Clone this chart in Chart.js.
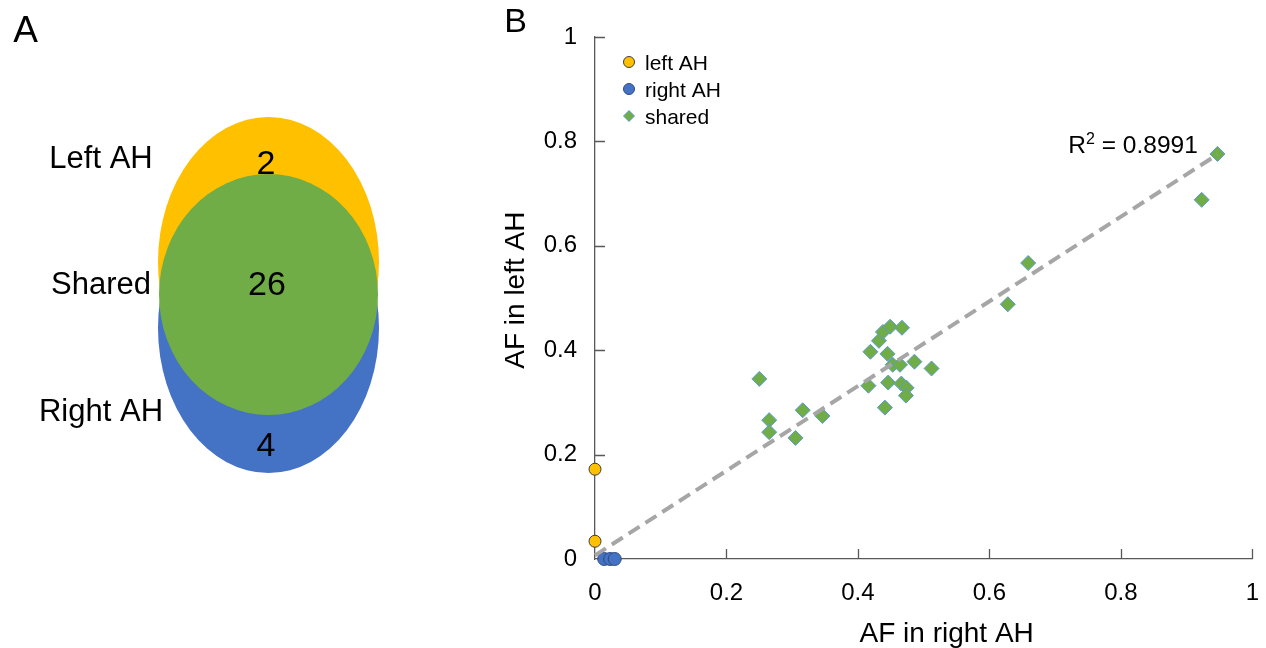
<!DOCTYPE html>
<html>
<head>
<meta charset="utf-8">
<script src="https://cdn.jsdelivr.net/npm/chart.js@4.4.1/dist/chart.umd.min.js"></script>
<style>
  html, body { margin: 0; padding: 0; background: #fff; }
  #wrap { position: relative; width: 1266px; height: 648px; overflow: hidden; }
  #venn { position: absolute; left: 0; top: 0; }
  #scatter { position: absolute; left: 480px; top: 0; }
</style>
</head>
<body>
<div id="wrap">
  <canvas id="venn" width="480" height="648"></canvas>
  <canvas id="scatter" width="799" height="648"></canvas>
</div>
<script>
// panel A
const vennNames = ['Left AH', 'Shared', 'Right AH']
const vennCounts = [2, 26, 4]

// panel B, allele frequencies
const leftX = [0, 0]
const leftY = [0.172, 0.034]
const rightX = [0.014, 0.023, 0.030]
const rightY = [0, 0, 0]
const sharedX = [0.947, 0.923, 0.659, 0.628, 0.250, 0.265, 0.265, 0.305, 0.316, 0.346, 0.416, 0.419, 0.432,
  0.438, 0.449, 0.467, 0.445, 0.453, 0.464, 0.486, 0.512, 0.446, 0.466, 0.474, 0.473, 0.441]
const sharedY = [0.776, 0.688, 0.567, 0.488, 0.345, 0.266, 0.243, 0.232, 0.285, 0.274, 0.332, 0.397, 0.418,
  0.435, 0.445, 0.443, 0.393, 0.372, 0.372, 0.378, 0.365, 0.338, 0.336, 0.328, 0.313, 0.290]
const trendX = [0, 0.947]
const trendY = [0.007, 0.775]
const rSquared = '0.8991'
const tickValues = [0, 0.2, 0.4, 0.6, 0.8, 1]
const tickLabels = ['0', '0.2', '0.4', '0.6', '0.8', '1']
const xTitle = 'AF in right AH'
const yTitle = 'AF in left AH'

const family = '"Liberation Sans", Arial, sans-serif'
const axisColor = '#595959'

function toPoints(xs, ys) {
  return xs.map((x, i) => ({x: x, y: ys[i]}))
}

// venn layout (pixels of the left canvas)
const vennShapes = [
  {cx: 268.5, cy: 262, rx: 110.5, ry: 145, color: '#FFC000'},
  {cx: 268.5, cy: 328, rx: 110.5, ry: 145, color: '#4472C4'},
  {cx: 268.5, cy: 294.5, rx: 109.5, ry: 120.5, color: '#70AD47'}
]
const nameSpots = [[101, 157], [101, 283], [101, 410]]
const countSpots = [[266, 162], [267, 283], [266, 444]]

function capText(ctx, text, x, y, size) {
  // y is the middle of the capital letters
  ctx.font = size + 'px ' + family
  ctx.textAlign = 'center'
  ctx.textBaseline = 'alphabetic'
  ctx.fillText(text, x, y + size * 0.358)
}

const vennPlugin = {
  id: 'vennPlugin',
  afterDraw(chart) {
    const ctx = chart.ctx
    const xs = chart.scales.x
    const ys = chart.scales.y
    ctx.save()
    vennShapes.forEach((s) => {
      const px = xs.getPixelForValue(s.cx)
      const py = ys.getPixelForValue(s.cy)
      const rx = xs.getPixelForValue(s.cx + s.rx) - px
      const ry = ys.getPixelForValue(s.cy + s.ry) - py
      ctx.beginPath()
      ctx.ellipse(px, py, Math.abs(rx), Math.abs(ry), 0, 0, Math.PI * 2)
      ctx.fillStyle = s.color
      ctx.fill()
    })
    ctx.fillStyle = '#000'
    vennNames.forEach((name, i) => {
      capText(ctx, name, xs.getPixelForValue(nameSpots[i][0]), ys.getPixelForValue(nameSpots[i][1]), 31)
    })
    vennCounts.forEach((n, i) => {
      capText(ctx, String(n), xs.getPixelForValue(countSpots[i][0]), ys.getPixelForValue(countSpots[i][1]), 34)
    })
    capText(ctx, 'A', 25.5, 28.5, 37)
    ctx.restore()
  }
}

new Chart(document.getElementById('venn'), {
  type: 'scatter',
  data: {datasets: []},
  options: {
    responsive: false,
    animation: false,
    layout: {padding: 0},
    plugins: {legend: {display: false}, tooltip: {enabled: false}},
    scales: {
      x: {type: 'linear', min: 0, max: 480, display: false},
      y: {type: 'linear', min: 0, max: 648, reverse: true, display: false}
    }
  },
  plugins: [vennPlugin]
})

// ticks pointing into the plot
const innerTicks = {
  id: 'innerTicks',
  afterDraw(chart) {
    const ctx = chart.ctx
    const area = chart.chartArea
    const xs = chart.scales.x
    const ys = chart.scales.y
    ctx.save()
    ctx.strokeStyle = axisColor
    ctx.lineWidth = 1.3
    ctx.beginPath()
    tickValues.forEach((v) => {
      if (v > 0) {
        const px = Math.round(xs.getPixelForValue(v)) + 0.5
        ctx.moveTo(px, area.bottom)
        ctx.lineTo(px, area.bottom - 10)
        const py = Math.round(ys.getPixelForValue(v)) + 0.5
        ctx.moveTo(area.left, py)
        ctx.lineTo(area.left + 10, py)
      }
    })
    ctx.stroke()
    ctx.restore()
  }
}

function drawMarker(ctx, style, x, y, r, fill, stroke) {
  ctx.beginPath()
  if (style === 'rectRot') {
    ctx.moveTo(x, y - r)
    ctx.lineTo(x + r, y)
    ctx.lineTo(x, y + r)
    ctx.lineTo(x - r, y)
    ctx.closePath()
  } else {
    ctx.arc(x, y, r, 0, Math.PI * 2)
  }
  ctx.fillStyle = fill
  ctx.fill()
  ctx.lineWidth = 1
  ctx.strokeStyle = stroke
  ctx.stroke()
}

const extras = {
  id: 'extras',
  afterDraw(chart) {
    const ctx = chart.ctx
    const area = chart.chartArea
    const xs = chart.scales.x
    const ys = chart.scales.y
    ctx.save()
    // legend
    const items = chart.data.datasets.filter((d) => d.inLegend)
    items.forEach((d, i) => {
      const y = area.top + 25 + i * 27
      drawMarker(ctx, d.pointStyle, area.left + 34, y, 5.5, d.backgroundColor, d.borderColor)
      ctx.fillStyle = '#000'
      ctx.font = '21px ' + family
      ctx.textAlign = 'left'
      ctx.textBaseline = 'alphabetic'
      ctx.fillText(d.label, area.left + 50, y + 21 * 0.358)
    })
    // R squared
    const right = xs.getPixelForValue(0.917)
    const mid = ys.getPixelForValue(0.794)
    const big = 24.5
    const small = 16
    ctx.font = big + 'px ' + family
    const wR = ctx.measureText('R').width
    const rest = ' = ' + rSquared
    const wRest = ctx.measureText(rest).width
    ctx.font = small + 'px ' + family
    const w2 = ctx.measureText('2').width
    let x = right - (wR + w2 + wRest)
    const base = mid + big * 0.358
    ctx.fillStyle = '#000'
    ctx.textAlign = 'left'
    ctx.font = big + 'px ' + family
    ctx.fillText('R', x, base)
    x += wR
    ctx.font = small + 'px ' + family
    ctx.fillText('2', x, base - big * 0.36)
    x += w2
    ctx.font = big + 'px ' + family
    ctx.fillText(rest, x, base)
    // axis titles, a bit off centre like the original
    capText(ctx, xTitle, xs.getPixelForValue(0.535), 632, 28)
    ctx.translate(34, ys.getPixelForValue(0.515))
    ctx.rotate(-Math.PI / 2)
    capText(ctx, yTitle, 0, 0, 28)
    ctx.restore()
    ctx.save()
    ctx.fillStyle = '#000'
    capText(ctx, 'B', 35.5, 20, 34)
    ctx.restore()
  }
}

const tickFont = {size: 24, family: family}

new Chart(document.getElementById('scatter'), {
  type: 'scatter',
  data: {
    datasets: [
      {
        type: 'line',
        label: 'trend',
        data: toPoints(trendX, trendY),
        borderColor: '#A6A6A6',
        borderWidth: 4,
        borderDash: [13, 7],
        pointRadius: 0,
        fill: false,
        clip: false,
        order: 0
      },
      {
        label: 'left AH',
        inLegend: true,
        data: toPoints(leftX, leftY),
        pointStyle: 'circle',
        pointRadius: 6,
        backgroundColor: '#FFC000',
        borderColor: '#3F3F3F',
        borderWidth: 1,
        clip: false,
        order: 1
      },
      {
        label: 'right AH',
        inLegend: true,
        data: toPoints(rightX, rightY),
        pointStyle: 'circle',
        pointRadius: 6.5,
        backgroundColor: '#4472C4',
        borderColor: '#2F4A80',
        borderWidth: 1,
        clip: false,
        order: 1
      },
      {
        label: 'shared',
        inLegend: true,
        data: toPoints(sharedX, sharedY),
        pointStyle: 'rectRot',
        pointRadius: 7.5,
        backgroundColor: '#70AD47',
        borderColor: '#5B9BD5',
        borderWidth: 1,
        clip: false,
        order: 2
      }
    ]
  },
  options: {
    responsive: false,
    animation: false,
    layout: {padding: {top: 37, right: 1, left: 0, bottom: 0}},
    plugins: {legend: {display: false}, tooltip: {enabled: false}},
    scales: {
      x: {
        type: 'linear',
        min: 0,
        max: 1,
        afterBuildTicks: (s) => { s.ticks = tickValues.map((v) => ({value: v})) },
        afterFit: (s) => { s.height = 89 },
        grid: {display: false, drawTicks: false},
        border: {display: true, color: axisColor, width: 1.3},
        ticks: {
          padding: 20,
          color: '#000',
          font: tickFont,
          maxRotation: 0,
          autoSkip: false,
          callback: (v, i) => tickLabels[i]
        },
        title: {display: false}
      },
      y: {
        type: 'linear',
        min: 0,
        max: 1,
        afterBuildTicks: (s) => { s.ticks = tickValues.map((v) => ({value: v})) },
        afterFit: (s) => { s.width = 115 },
        grid: {display: false, drawTicks: false},
        border: {display: true, color: axisColor, width: 1.3},
        ticks: {
          padding: 18,
          color: '#000',
          font: tickFont,
          autoSkip: false,
          callback: (v, i) => tickLabels[i]
        },
        title: {display: false}
      }
    }
  },
  plugins: [innerTicks, extras]
})
</script>
</body>
</html>
